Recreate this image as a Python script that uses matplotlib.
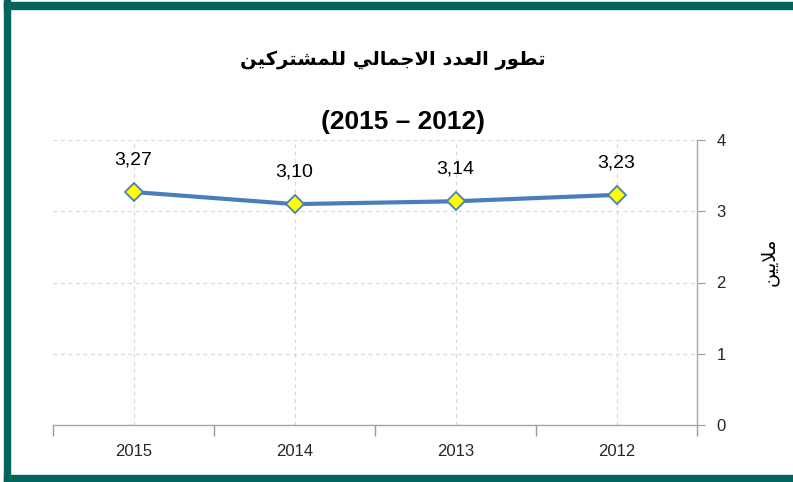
import matplotlib.pyplot as plt
from matplotlib.patches import Rectangle

# البيانات
years = ['2015', '2014', '2013', '2012']
subscribers = [3.27, 3.10, 3.14, 3.23]
value_labels = ['3,27', '3,10', '3,14', '3,23']
title_ar = 'تطور العدد الاجمالي للمشتركين'
title_years = '(2015 – 2012)'
ylabel_ar = 'ملايين'

# تشكيل الحروف العربية يدويا (matplotlib لا يدعم الربط ولا الاتجاه)
FORMS = {
    'ا': ('\ufe8d', '\ufe8e', None, None),
    'ت': ('\ufe95', '\ufe96', '\ufe97', '\ufe98'),
    'ط': ('\ufec1', '\ufec2', '\ufec3', '\ufec4'),
    'و': ('\ufeed', '\ufeee', None, None),
    'ر': ('\ufead', '\ufeae', None, None),
    'ل': ('\ufedd', '\ufede', '\ufedf', '\ufee0'),
    'ع': ('\ufec9', '\ufeca', '\ufecb', '\ufecc'),
    'د': ('\ufea9', '\ufeaa', None, None),
    'ج': ('\ufe9d', '\ufe9e', '\ufe9f', '\ufea0'),
    'م': ('\ufee1', '\ufee2', '\ufee3', '\ufee4'),
    'ي': ('\ufef1', '\ufef2', '\ufef3', '\ufef4'),
    'ش': ('\ufeb5', '\ufeb6', '\ufeb7', '\ufeb8'),
    'ك': ('\ufed9', '\ufeda', '\ufedb', '\ufedc'),
    'ن': ('\ufee5', '\ufee6', '\ufee7', '\ufee8'),
    '\ufefb': ('\ufefb', '\ufefc', None, None),
}


def shape(text):
    chars = list(text.replace('لا', '\ufefb'))
    out = []
    for i, c in enumerate(chars):
        if c not in FORMS:
            out.append(c)
            continue
        prev = chars[i - 1] if i > 0 else ''
        nxt = chars[i + 1] if i + 1 < len(chars) else ''
        jp = prev in FORMS and FORMS[prev][2] is not None
        jn = FORMS[c][2] is not None and nxt in FORMS
        iso, fin, ini, med = FORMS[c]
        if jp and jn:
            out.append(med)
        elif jp:
            out.append(fin)
        elif jn:
            out.append(ini)
        else:
            out.append(iso)
    return ''.join(reversed(out))


plt.rcParams['font.family'] = ['Liberation Sans', 'DejaVu Sans']

fig = plt.figure(figsize=(7.93, 4.82), dpi=100)
W, H = 793, 482
ax = fig.add_axes([53 / W, 57 / H, 644 / W, 285 / H])

x = list(range(len(years)))
ax.plot(x, subscribers, color='#4A7EBB', linewidth=3, marker='D', markersize=9,
        markerfacecolor='#FFFF00', markeredgecolor='#4A7EBB', markeredgewidth=1.3,
        zorder=3)
for xi, v, lab in zip(x, subscribers, value_labels):
    ax.annotate(lab, (xi, v), xytext=(0, 17), textcoords='offset points',
                ha='center', va='bottom', fontsize=14, color='black')

ax.set_xlim(-0.5, len(years) - 0.5)
ax.set_ylim(0, 4)
ax.set_yticks([0, 1, 2, 3, 4])
ax.yaxis.tick_right()
ax.set_xticks(x)
ax.set_xticklabels(years)
ax.set_xticks([i - 0.5 for i in range(len(years) + 1)], minor=True)
ax.tick_params(axis='x', which='major', length=0, pad=14, labelsize=12, labelcolor='#262626')
ax.tick_params(axis='x', which='minor', length=8, color='#999999', width=1)
ax.tick_params(axis='y', which='major', length=6, color='#999999', pad=8,
               labelsize=12, labelcolor='#262626')

ax.grid(True, which='major', axis='both', color='#D9D9D9', linestyle=(0, (3, 3)), linewidth=0.9)
for s in ['left', 'top']:
    ax.spines[s].set_visible(False)
for s in ['right', 'bottom']:
    ax.spines[s].set_color('#A6A6A6')
    ax.spines[s].set_linewidth(1)

fig.text(393 / W, 1 - 60 / H, shape(title_ar), ha='center', va='center',
         fontsize=14, fontweight='bold', family=['DejaVu Sans'])
fig.text(403 / W, 1 - 122 / H, title_years, ha='center', va='center',
         fontsize=19, fontweight='bold', family=['Liberation Sans'])
fig.text(769 / W, 1 - 262 / H, shape(ylabel_ar), ha='center', va='center',
         rotation=90, fontsize=14, family=['DejaVu Sans'])

# الإطار
teal = '#03645E'
fig.patches.append(Rectangle((4 / W, 0), 6 / W, 1, transform=fig.transFigure, color=teal))
fig.patches.append(Rectangle((4 / W, 1 - 9 / H), 1, 7 / H, transform=fig.transFigure, color=teal))
fig.patches.append(Rectangle((4 / W, 0), 1, 7 / H, transform=fig.transFigure, color=teal))

fig.savefig('out.png', dpi=100)
